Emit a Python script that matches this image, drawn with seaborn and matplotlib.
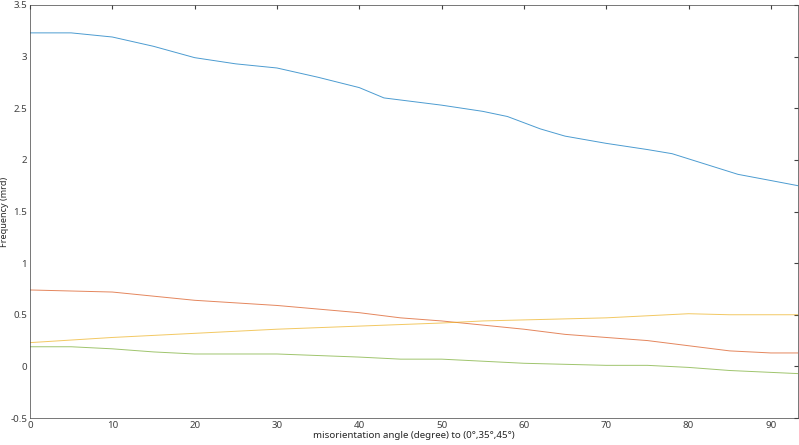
import matplotlib
matplotlib.use("Agg")
import matplotlib.pyplot as plt
import seaborn as sns
import numpy as np

sns.set_style("white")
plt.rcParams['font.family'] = ['Noto Sans', 'DejaVu Sans']

x_blue = [0, 5, 10, 15, 20, 25, 30, 35, 40, 43, 50, 55, 58, 62, 65, 70, 75, 78, 82, 86, 90, 93.3]
y_blue = [3.23, 3.23, 3.19, 3.10, 2.99, 2.93, 2.89, 2.80, 2.70, 2.60, 2.53, 2.47, 2.42, 2.30, 2.23, 2.16, 2.10, 2.06, 1.96, 1.86, 1.80, 1.75]
x_red = [0, 10, 20, 30, 40, 45, 50, 55, 60, 65, 70, 75, 80, 85, 90, 93.3]
y_red = [0.74, 0.72, 0.64, 0.59, 0.52, 0.47, 0.44, 0.40, 0.36, 0.31, 0.28, 0.25, 0.20, 0.15, 0.13, 0.13]
x_yel = [0, 10, 20, 30, 40, 50, 55, 60, 65, 70, 75, 80, 85, 93.3]
y_yel = [0.23, 0.28, 0.32, 0.36, 0.39, 0.42, 0.44, 0.45, 0.46, 0.47, 0.49, 0.51, 0.50, 0.50]
x_grn = [0, 5, 10, 15, 20, 25, 30, 40, 45, 50, 55, 60, 65, 70, 75, 80, 85, 93.3]
y_grn = [0.19, 0.19, 0.17, 0.14, 0.12, 0.12, 0.12, 0.09, 0.07, 0.07, 0.05, 0.03, 0.02, 0.01, 0.01, -0.01, -0.04, -0.07]

series = [(x_blue, y_blue, "#0072BD"), (x_red, y_red, "#D95319"),
          (x_yel, y_yel, "#EDB120"), (x_grn, y_grn, "#77AC30")]

fig = plt.figure(figsize=(7.99, 4.45), dpi=100)
ax = fig.add_axes([30/799, 1-418/445, 768/799, 413/445])
for xs, ys, c in series:
    sns.lineplot(x=xs, y=ys, ax=ax, color=c, linewidth=0.7, alpha=0.7)
ax.set_xlim(0, 93.3)
ax.set_ylim(-0.5, 3.5)
ax.set_xticks(np.arange(0, 91, 10))
ax.set_yticks(np.arange(-0.5, 3.51, 0.5))
ax.set_yticklabels(["-0.5", "0", "0.5", "1", "1.5", "2", "2.5", "3", "3.5"])
ax.tick_params(direction="in", labelsize=7, colors="#404040", length=3, top=True, right=True, pad=2)
for s in ax.spines.values():
    s.set_color("#404040"); s.set_linewidth(0.5)
ax.set_xlabel("misorientation angle (degree) to (0°,35°,45°)", fontsize=7, labelpad=1, color="#262626")
ax.set_ylabel("Frequency (mrd)", fontsize=6.5, labelpad=1, color="#262626")
fig.savefig("out.png", dpi=100)
